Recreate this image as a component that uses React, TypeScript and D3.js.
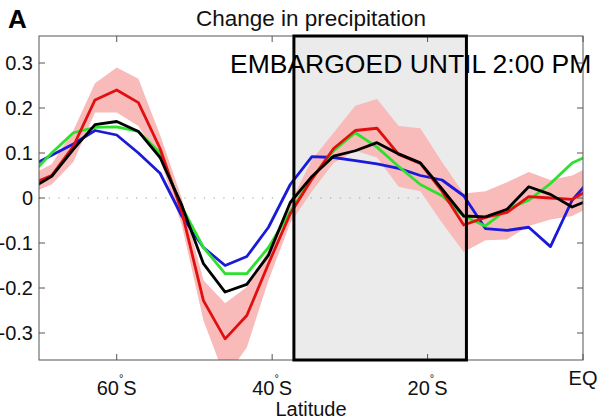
import * as d3 from 'd3'

// Gaussian-grid latitudes (deg, negative = south)
const lats = [-71.16, -68.37, -65.58, -62.79, -60.0, -57.21, -54.42, -51.63, -48.84, -46.05, -43.26, -40.47, -37.67, -34.88, -32.09, -29.3, -26.51, -23.72, -20.93, -18.14, -15.35, -12.56, -9.77, -6.98, -4.19, -1.4, 1.4]

const red = [0.03, 0.05, 0.115, 0.218, 0.24, 0.212, 0.11, -0.03, -0.228, -0.313, -0.261, -0.146, -0.035, 0.042, 0.11, 0.15, 0.155, 0.097, 0.077, 0.015, -0.06, -0.043, -0.032, 0.003, 0.0, -0.003, 0.025]
const redHi = [0.05, 0.075, 0.15, 0.255, 0.29, 0.265, 0.14, 0.0, -0.183, -0.234, -0.198, -0.116, -0.011, 0.085, 0.145, 0.205, 0.22, 0.16, 0.155, 0.08, 0.01, 0.015, 0.035, 0.058, 0.04, 0.05, 0.075]
const redLo = [0.01, 0.03, 0.08, 0.19, 0.19, 0.16, 0.085, -0.06, -0.272, -0.4, -0.332, -0.183, -0.056, 0.015, 0.078, 0.105, 0.09, 0.025, 0.015, -0.055, -0.12, -0.094, -0.092, -0.062, -0.048, -0.04, -0.015]
const black = [0.02, 0.048, 0.108, 0.163, 0.17, 0.148, 0.09, -0.016, -0.146, -0.209, -0.192, -0.127, -0.01, 0.048, 0.093, 0.105, 0.123, 0.098, 0.078, 0.02, -0.04, -0.042, -0.025, 0.025, 0.008, -0.02, 0.0]
const green = [0.05, 0.1, 0.145, 0.157, 0.158, 0.148, 0.1, -0.02, -0.11, -0.168, -0.168, -0.11, -0.03, 0.044, 0.105, 0.145, 0.113, 0.07, 0.03, 0.005, -0.04, -0.062, -0.025, -0.005, 0.032, 0.078, 0.1]
const blue = [0.07, 0.095, 0.12, 0.15, 0.14, 0.1, 0.055, -0.04, -0.11, -0.15, -0.13, -0.065, 0.03, 0.092, 0.09, 0.083, 0.076, 0.066, 0.05, 0.04, 0.005, -0.068, -0.072, -0.065, -0.108, -0.005, 0.05]

const yTicks = [-0.3, -0.2, -0.1, 0, 0.1, 0.2, 0.3]
const xTicks = [-60, -40, -20, 0]
const xTickLabels = ['60', '40', '20', 'EQ']
const boxRange = [-37.2, -15.0]

const font = '"Liberation Sans", Arial, Helvetica, sans-serif'

export default function App() {
  const left = 39, right = 583, top = 36, bottom = 360
  const x = d3.scaleLinear().domain([-70, 0]).range([left, right])
  const y = d3.scaleLinear().domain([-0.36, 0.36]).range([bottom, top])

  const line = (vals: number[]) =>
    d3.line<number>().x((_, i) => x(lats[i])).y(d => y(d))(vals) || ''
  const band = d3.area<number>()
    .x((_, i) => x(lats[i]))
    .y0((_, i) => y(redLo[i]))
    .y1((_, i) => y(redHi[i]))(redHi) || ''

  const series = [
    { vals: blue, color: '#1a1ad8' },
    { vals: green, color: '#2ee02e' },
    { vals: red, color: '#e01010' },
    { vals: black, color: '#000' },
  ]

  return (
    <svg width={600} height={420} style={{ position: 'absolute', left: 0, top: 0, background: '#fff' }} fontFamily={font}>
      <defs>
        <clipPath id="plot">
          <rect x={left} y={top} width={right - left} height={bottom - top} />
        </clipPath>
      </defs>

      {/* highlighted region fill */}
      <rect x={x(boxRange[0])} y={top} width={x(boxRange[1]) - x(boxRange[0])} height={bottom - top} fill="#ebebeb" />

      {/* zero line */}
      <line x1={left} x2={right} y1={y(0)} y2={y(0)} stroke="#999" strokeWidth={1.2} strokeDasharray="1.2 8.5" />

      <g clipPath="url(#plot)">
        <path d={band} fill="#f9baba" />
        {series.map((s, i) => (
          <path key={i} d={line(s.vals)} fill="none" stroke={s.color} strokeWidth={2.8} strokeLinejoin="round" />
        ))}
      </g>

      {/* frame */}
      <rect x={left} y={top} width={right - left} height={bottom - top} fill="none" stroke="#555" strokeWidth={1} />

      {/* ticks */}
      {yTicks.map(t => (
        <g key={t}>
          <line x1={left} x2={left + 6} y1={y(t)} y2={y(t)} stroke="#555" />
          <line x1={right} x2={right - 6} y1={y(t)} y2={y(t)} stroke="#555" />
          <text x={33} y={y(t) + 7} textAnchor="end" fontSize={20} fill="#111">{t === 0 ? '0' : t.toFixed(1)}</text>
        </g>
      ))}
      {xTicks.map((t, i) => (
        <g key={t}>
          <line x1={x(t)} x2={x(t)} y1={top} y2={top + 6} stroke="#555" />
          <line x1={x(t)} x2={x(t)} y1={bottom} y2={bottom - 6} stroke="#555" />
          {t === 0 ? (
            <text x={x(t)} y={385} textAnchor="middle" fontSize={20} fill="#111">{xTickLabels[i]}</text>
          ) : (
            <text x={x(t)} y={395} textAnchor="middle" fontSize={20} fill="#111">
              {xTickLabels[i]}
              <tspan fontSize={11} dy={-13}>°</tspan>
              <tspan dy={13}>S</tspan>
            </text>
          )}
        </g>
      ))}

      {/* highlighted region outline */}
      <rect x={x(boxRange[0])} y={top} width={x(boxRange[1]) - x(boxRange[0])} height={bottom - top} fill="none" stroke="#000" strokeWidth={3} />

      <text x={311} y={416} textAnchor="middle" fontSize={20} fill="#111">Latitude</text>
      <text x={311} y={26} textAnchor="middle" fontSize={22.5} fill="#111">Change in precipitation</text>
      <text x={8} y={28} fontSize={26} fontWeight="bold" fill="#000">A</text>
      <text x={230} y={73} fontSize={26.5} fill="#000">EMBARGOED UNTIL 2:00 PM</text>
    </svg>
  )
}
